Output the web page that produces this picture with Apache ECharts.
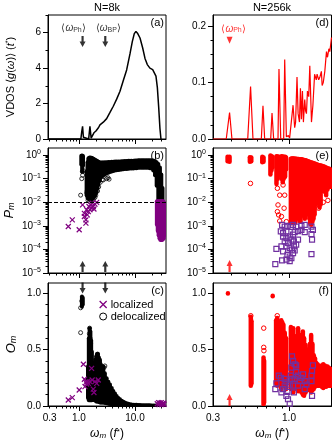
<!DOCTYPE html>
<html>
<head>
<meta charset="utf-8">
<script src="https://cdn.jsdelivr.net/npm/echarts@6/dist/echarts.min.js"></script>
<style>
html, body { margin: 0; padding: 0; background: #fff; }
#chart { width: 333px; height: 446px; }
</style>
</head>
<body>
<div id="chart"></div>
<script>
// ---- data: [omega, value] or [omega, low, high] for dense stacks of modes ----
const vdos8k = [[0.28,0],[1.08,0],[1.12,0.4],[1.16,0.72],[1.2,0.1],[1.24,0],[1.49,0],[1.57,0.72],[1.65,0.05],
    [1.75,0.12],[1.85,0.35],[1.93,0.25],[2.01,0.45],[2.12,0.4],[2.24,0.65],[2.37,0.8],[2.72,0.95],[3.12,1.15],
    [3.58,1.5],[4.1,1.85],[4.71,2.25],[5.4,2.7],[6.19,3.3],[7.1,3.9],[8.14,4.8],[8.96,5.5],[9.72,5.95],[10.4,6.07],
    [11.2,5.95],[12.3,5.7],[13.7,5.15],[15.1,4.55],[16.6,4.2],[18.5,4.0],[20.7,3.92],[22.4,3.85],[23.7,3.55],
    [25.1,2.9],[26.5,1.8],[27.9,0.6],[29.1,0]]
const vdos256k = [[0.3,0],[0.37,0],[0.39,0.047],[0.405,0],[0.52,0],[0.544,0.093],[0.565,0],[0.645,0],[0.662,0.059],
    [0.68,0],[0.748,0],[0.764,0.046],[0.784,0],[0.84,0],[0.853,0.124],[0.877,0],[0.919,0],[0.934,0.141],[0.959,0.004],
    [0.99,0.006],[1.01,0.002],[1.038,0.005],[1.066,0.06],[1.094,0.02],[1.11,0.03],[1.135,0.11],[1.155,0.045],[1.18,0.03],
    [1.198,0.09],[1.217,0.035],[1.237,0.085],[1.256,0.03],[1.283,0.07],[1.3,0.05],[1.318,0.045],[1.339,0.085],[1.367,0.075],
    [1.39,0.13],[1.427,0.03],[1.46,0.06],[1.5,0.115],[1.54,0.105],[1.56,0.115],[1.6,0.105],[1.63,0.11],[1.67,0.12],
    [1.69,0.095],[1.72,0.1],[1.763,0.12],[1.81,0.155],[1.84,0.145],[1.88,0.16],[1.909,0.155],[1.96,0.18]]

const delocP8kBands = [[1.1,0.4,0.93],[1.14,0.2,0.95],[1.18,0.35,0.92],
    [1.37,0.02,0.2],[1.42,0.015,0.5],[1.47,0.015,0.72],[1.52,0.013,0.78],[1.57,0.013,0.8],[1.62,0.013,0.78],
    [1.68,0.013,0.77],[1.74,0.014,0.74],[1.8,0.015,0.7],[1.87,0.017,0.67],[1.93,0.02,0.64],[2.0,0.024,0.61],
    [2.07,0.028,0.58],[2.14,0.04,0.55],[2.21,0.054,0.52],[2.29,0.075,0.5],[2.37,0.1,0.49],[2.5,0.12,0.49],
    [2.62,0.13,0.49],[2.72,0.14,0.49],[2.9,0.15,0.5],[3.12,0.17,0.5],[3.35,0.18,0.51],[3.58,0.19,0.51],
    [3.85,0.2,0.52],[4.1,0.21,0.52],[4.4,0.22,0.53],[4.71,0.23,0.53],[5.05,0.235,0.54],[5.4,0.24,0.54],
    [5.8,0.245,0.55],[6.19,0.25,0.55],[6.6,0.255,0.56],[7.1,0.26,0.56],[7.6,0.265,0.57],[8.14,0.27,0.57],
    [8.7,0.27,0.58],[9.33,0.27,0.58],[10,0.28,0.59],[10.7,0.28,0.59],[11.5,0.29,0.6],[12.3,0.29,0.6],
    [13.2,0.29,0.6],[14.1,0.29,0.61],[15.1,0.29,0.61],[16.2,0.29,0.61],[17.3,0.29,0.61],[18.5,0.28,0.61],
    [19.8,0.27,0.6],[21.2,0.22,0.59],[22.8,0.14,0.56],[24.4,0.05,0.5],[26.1,0.012,0.42],[27.9,0.011,0.3],
    [29.5,0.011,0.15],[31,0.011,0.04]]
const delocP8kPts = [[1.07,0.02],[1.12,0.1],[1.16,0.14],[1.15,0.2],[1.2,0.22],[1.38,0.025],[1.4,0.03],[1.45,0.012],
    [1.55,0.011],[1.65,0.012],[1.8,0.013],[1.93,0.016],[2.0,0.02],[2.15,0.03],[2.25,0.045],[2.4,0.07],[2.6,0.09],
    [2.72,0.088],[3.12,0.1],[3.3,0.11],[3.45,0.095],[2.3,0.12]]
const locP8kBands = [[24.6,0.0011,0.011],[25.5,0.0006,0.011],[26.4,0.0004,0.011],[27.3,0.0003,0.011],
    [28.2,0.00026,0.011],[29.1,0.00025,0.011],[30,0.00025,0.011],[30.9,0.00026,0.011],[31.8,0.00028,0.011],
    [32.7,0.0003,0.01],[33.5,0.0004,0.009]]
const locP8k = [[0.645,0.00094],[0.76,0.0018],[1.01,0.00068],[1.16,0.0077],[1.25,0.0034],[1.25,0.0025],[1.33,0.0013],
    [1.33,0.0018],[1.37,0.0048],[1.41,0.0029],[1.47,0.004],[1.51,0.0066],[1.57,0.0048],[1.61,0.0077],[1.68,0.0056],
    [1.72,0.0091],[1.8,0.0066],[1.85,0.0052],[1.93,0.0083],[2.07,0.0099]]

const delocO8kBands = [[1.13,0.88,0.97],[1.17,0.9,0.96],
    [1.45,0.07,0.35],[1.5,0.05,0.6],[1.55,0.05,0.69],[1.6,0.05,0.66],[1.65,0.05,0.58],[1.7,0.05,0.48],
    [1.76,0.06,0.38],[1.82,0.06,0.36],[1.88,0.05,0.38],[1.95,0.05,0.41],[2.03,0.04,0.44],[2.1,0.04,0.46],
    [2.18,0.04,0.46],[2.27,0.035,0.43],[2.37,0.03,0.41],[2.45,0.03,0.37],[2.54,0.03,0.33],[2.63,0.03,0.34],
    [2.72,0.03,0.35],[2.9,0.027,0.29],[3.12,0.024,0.245],[3.35,0.02,0.215],[3.58,0.018,0.19],[3.85,0.016,0.16],
    [4.1,0.015,0.133],[4.4,0.013,0.11],[4.71,0.012,0.089],[5.05,0.01,0.072],[5.4,0.009,0.059],[5.8,0.008,0.047],
    [6.19,0.007,0.038],[6.6,0.006,0.03],[7.1,0.005,0.024],[7.6,0.005,0.02],[8.14,0.004,0.016],[8.7,0.004,0.014],
    [9.33,0.004,0.012],[10,0.003,0.011],[10.7,0.003,0.01],[11.5,0.003,0.009],[12.3,0.003,0.008],[13.2,0.003,0.007],
    [14.1,0.003,0.007],[15.1,0.003,0.006],[16.2,0.003,0.006],[17.3,0.002,0.006],[18.5,0.002,0.006],[19.8,0.002,0.005],
    [21.2,0.002,0.005],[22.8,0.002,0.005],[24.4,0.002,0.005],[26.1,0.002,0.005],[27.9,0.002,0.005],[29.9,0.002,0.005],
    [31.5,0.002,0.005]]
const delocO8kPts = [[1.07,0.87],[1.07,0.65],[1.12,0.93],[1.55,0.69],[1.53,0.64],[1.58,0.6],[1.62,0.55],[2.9,0.355],
    [2.8,0.34],[2.15,0.46],[1.85,0.11],[1.78,0.08],[2.6,0.35]]
const locO8k = [[0.645,0.053],[0.76,0.074],[1.01,0.142],[1.2,0.37],[1.25,0.237],[1.28,0.172],[1.33,0.21],[1.37,0.195],
    [1.43,0.216],[1.47,0.2],[1.57,0.216],[1.68,0.334],[1.72,0.23],[1.8,0.15],[1.85,0.12],[1.93,0.216],[2.07,0.2],
    [2.21,0.23],[25,0.02],[26.5,0.03],[28,0.025],[29.5,0.03],[31,0.02],[32.5,0.025],[27,0.012],[30,0.012],[33,0.015]]

const delocP256kBands = [[0.378,0.55,0.85],[0.39,0.52,0.85],[0.538,0.52,0.82],[0.55,0.55,0.8],
    [0.655,0.5,0.85],[0.668,0.52,0.8],[0.745,0.15,0.95],[0.757,0.22,0.9],[0.77,0.3,0.85],
    [0.82,0.06,0.9],[0.835,0.1,0.88],[0.85,0.15,0.85],[0.887,0.1,0.9],[0.905,0.07,0.88],[0.92,0.1,0.86],
    [0.94,0.12,0.85],[0.955,0.25,0.8],
    [1.03,0.0015,0.7],[1.045,0.0013,0.72],[1.06,0.0025,0.72],[1.075,0.004,0.72],[1.09,0.0013,0.7],[1.105,0.0014,0.7],
    [1.12,0.003,0.7],[1.135,0.006,0.68],[1.15,0.004,0.68],[1.165,0.002,0.68],[1.18,0.0016,0.67],[1.2,0.0015,0.66],
    [1.215,0.003,0.66],[1.23,0.008,0.65],[1.25,0.004,0.64],[1.27,0.0025,0.62],[1.285,0.002,0.61],[1.3,0.003,0.6],
    [1.32,0.008,0.58],[1.34,0.004,0.56],[1.36,0.003,0.54],[1.38,0.002,0.52],[1.4,0.0012,0.5],[1.425,0.0011,0.49],
    [1.45,0.0015,0.47],[1.475,0.002,0.45],[1.5,0.003,0.44],[1.53,0.008,0.42],[1.56,0.012,0.4],[1.59,0.011,0.38],
    [1.62,0.006,0.37],[1.65,0.008,0.36],[1.68,0.03,0.35],[1.72,0.04,0.34],[1.76,0.028,0.32],[1.8,0.02,0.3],
    [1.84,0.035,0.28],[1.88,0.046,0.27],[1.92,0.045,0.25],[1.955,0.046,0.23]]
const delocP256kPts = [[0.543,0.063],[0.832,0.039],[0.863,0.02],[0.84,0.0077],[0.832,0.004],[0.848,0.0029],
    [0.863,0.0016],[0.91,0.054],[0.934,0.02],[0.925,0.0056],[0.887,0.0025],[0.959,0.0015],[1.6,0.0056],
    [1.72,0.01],[1.85,0.012]]
const locP256k = [[0.896,0.0011],[0.934,0.00093],[0.975,0.001],[0.878,0.00058],[0.91,0.00049],[0.959,0.00058],
    [1.027,0.0009],[1.066,0.0011],[1.12,0.00093],[1.217,0.001],[1.283,0.0011],[1.427,0.00093],[1.46,0.00068],
    [0.91,0.00035],[0.959,0.0003],[1.011,0.00035],[1.066,0.00042],[1.094,0.00054],[1.153,0.0006],[1.217,0.00068],
    [1.283,0.00054],[1.427,0.00045],[1.44,0.00026],[0.934,0.00022],[0.984,0.00019],[1.038,0.00026],[1.08,0.00022],
    [1.12,0.00016],[1.153,0.00026],[0.887,0.000134],[0.959,0.000134],[1.011,0.000114],[1.049,0.000097],
    [1.08,0.000134],[0.819,0.000105],[0.91,0.000083],[0.975,0.000059],[1.011,0.00005],[1.038,0.000043],
    [1.066,0.00007],[1.094,0.00009],[0.896,0.000034],[0.959,0.000037],[1.011,0.000032],[0.805,0.000024],
    [1.427,0.000063]]

const delocO256kBands = [[0.38,0.996,1.0],[0.772,0.972,0.976],[0.546,0.18,0.79],[0.552,0.2,0.75],
    [0.668,0.015,0.43],[0.674,0.03,0.4],[0.815,0.2,0.76],[0.83,0.18,0.78],[0.845,0.2,0.75],[0.86,0.22,0.7],
    [0.885,0.15,0.76],[0.9,0.18,0.74],[0.915,0.2,0.72],[0.935,0.18,0.65],[0.955,0.15,0.6],
    [1.03,0.15,0.7],[1.05,0.18,0.6],[1.07,0.12,0.69],[1.09,0.15,0.62],[1.11,0.18,0.54],[1.13,0.16,0.6],
    [1.155,0.13,0.69],[1.18,0.15,0.6],[1.2,0.13,0.63],[1.22,0.12,0.62],[1.245,0.1,0.66],[1.27,0.09,0.6],
    [1.3,0.12,0.54],[1.33,0.14,0.5],[1.36,0.15,0.48],[1.39,0.14,0.55],[1.42,0.12,0.63],[1.45,0.14,0.55],
    [1.48,0.15,0.45],[1.51,0.17,0.42],[1.54,0.18,0.38],[1.57,0.18,0.37],[1.6,0.18,0.36],[1.64,0.18,0.35],
    [1.68,0.17,0.36],[1.72,0.16,0.37],[1.76,0.17,0.36],[1.8,0.17,0.35],[1.84,0.18,0.35],[1.88,0.18,0.34],
    [1.92,0.18,0.33],[1.955,0.18,0.32]]
const delocO256kPts = [[0.67,0.69],[0.67,0.52],[0.672,0.49],[0.546,0.8],[0.83,0.8]]
const locO256k = [[1.049,0.44],[1.066,0.4],[1.094,0.37],[1.12,0.36],[1.038,0.34],[1.027,0.27],[1.049,0.24],
    [1.094,0.24],[1.12,0.3],[1.153,0.27],[1.185,0.22],[1.217,0.25],[1.25,0.28],[1.283,0.22],[1.317,0.19],
    [1.427,0.27],[1.44,0.31],[1.46,0.36],[1.427,0.22],[1.44,0.09],[1.283,0.15],[1.153,0.18],[1.066,0.18],
    [1.011,0.19],[0.959,0.21],[0.934,0.18],[0.91,0.15],[0.887,0.12],[0.959,0.09],[0.984,0.06],[1.011,0.02],
    [0.878,0.25],[0.85,0.27],[0.819,0.2],[0.805,0.15],[0.934,0.24],[1.08,0.12],[0.975,0.125]]

// mean frequencies marked by arrows
const omegaPh8k = 1.16
const omegaBP8k = 2.95
const omegaPh256k = 0.39
const pThreshold8k = 0.01
const pThreshold256k = 0.001

// ticks
const xLeft = { min: 0.28, max: 35.8, major: [1, 10], minor: [0.3,0.4,0.5,0.6,0.7,0.8,0.9,2,3,4,5,6,7,8,9,20,30], labels: [0.3, 1, 10] }
const xRight = { min: 0.3, max: 1.96, major: [1], minor: [0.4,0.5,0.6,0.7,0.8,0.9], labels: [0.3, 1] }
const yVdos8k = { min: 0, max: 7, major: [0,2,4,6], minor: [1,3,5,7], labels: [0,2,4,6] }
const yVdos256k = { min: 0, max: 0.22, major: [0,0.1,0.2], minor: [0.025,0.05,0.075,0.125,0.15,0.175], labels: [0,0.1,0.2] }
const yP = { min: 1e-5, max: 2, major: [1e-5,1e-4,1e-3,1e-2,1e-1,1], minor: [], labels: [1e-5,1e-4,1e-3,1e-2,1e-1,1] }
for (let e = -5; e < 0; e++) for (let k = 2; k < 10; k++) yP.minor.push(k * Math.pow(10, e))
const yO = { min: 0, max: 1.09, major: [0,0.5,1], minor: [0.1,0.2,0.3,0.4,0.6,0.7,0.8,0.9], labels: [0,0.5,1] }

const FONT = 'Liberation Sans'
const BLACK = '#000000'
const RED = '#ff0000'
const PURPLE = '#800080'
const SQUARE = '#7030a0'
const ARROW = 'path://M3.2,0L6.8,0L6.8,10L10,10L5,20L0,10L3.2,10Z'
const CROSS = 'path://M0,0L10,10M10,0L0,10'

const grids = [
    { left: 48, top: 15, width: 118, height: 124 },
    { left: 48, top: 148, width: 118, height: 125 },
    { left: 48, top: 283, width: 118, height: 123 },
    { left: 213, top: 15, width: 118.5, height: 124 },
    { left: 213, top: 148, width: 118.5, height: 125 },
    { left: 213, top: 283, width: 118.5, height: 123 },
].map(g => Object.assign(g, { show: true, borderColor: BLACK, borderWidth: 1, backgroundColor: 'transparent' }))

const xName = '{w|ω}{s|m} ({i|f}{p|*})'
const xNameStyle = {
    fontSize: 12, fontFamily: FONT, color: BLACK,
    rich: {
        w: { fontSize: 12, fontStyle: 'italic', fontFamily: FONT },
        s: { fontSize: 8, fontStyle: 'italic', fontFamily: FONT, verticalAlign: 'bottom', lineHeight: 8 },
        i: { fontSize: 12, fontStyle: 'italic', fontFamily: FONT },
        p: { fontSize: 8, fontFamily: FONT, verticalAlign: 'top', lineHeight: 8 },
    },
}

function makeAxes(g, cfg, type, dir, labelFmt, name, nameGap, nameStyle) {
    const base = {
        gridIndex: g, type, min: cfg.min, max: cfg.max,
        position: dir === 'x' ? 'bottom' : 'left',
        splitLine: { show: false },
    }
    const major = Object.assign({}, base, {
        axisLine: { onZero: false, lineStyle: { color: BLACK, width: 1 } },
        axisTick: { inside: false, length: 5, customValues: cfg.major, lineStyle: { color: BLACK, width: 1 } },
        axisLabel: labelFmt ? {
            customValues: cfg.labels, formatter: labelFmt, fontSize: 10, fontFamily: FONT, color: BLACK, margin: 7,
            rich: {
                b: { fontSize: 10, fontFamily: FONT, lineHeight: 13 },
                e: { fontSize: 7, fontFamily: FONT, verticalAlign: 'top', lineHeight: 7 },
            },
        } : { show: false },
        name: name || '', nameLocation: 'middle', nameGap: nameGap || 0, nameTextStyle: nameStyle,
    })
    const minor = Object.assign({}, base, {
        axisLine: { show: false },
        axisTick: { inside: false, length: 2.5, customValues: cfg.minor, lineStyle: { color: BLACK, width: 1 } },
        axisLabel: { show: false },
    })
    return [major, minor]
}

const fmt1 = v => v.toFixed(1)
const fmtInt = v => String(Math.round(v))
const fmtPow = v => '{b|10}{e|' + String(Math.round(Math.log10(v))).replace('-', '−') + '}'

const yNameStyle = size => ({
    fontSize: size, fontFamily: FONT, color: BLACK,
    rich: {
        i: { fontSize: size, fontStyle: 'italic', fontFamily: FONT },
        s: { fontSize: size - 4, fontStyle: 'italic', fontFamily: FONT, verticalAlign: 'bottom', lineHeight: size - 4 },
        p: { fontSize: size - 4, fontFamily: FONT, verticalAlign: 'top', lineHeight: size - 4 },
    },
})

const xAxis = [].concat(
    makeAxes(0, xLeft, 'log', 'x', null),
    makeAxes(1, xLeft, 'log', 'x', null),
    makeAxes(2, xLeft, 'log', 'x', fmt1, xName, 22, xNameStyle),
    makeAxes(3, xRight, 'log', 'x', null),
    makeAxes(4, xRight, 'log', 'x', null),
    makeAxes(5, xRight, 'log', 'x', fmt1, xName, 22, xNameStyle),
)
const yAxis = [].concat(
    makeAxes(0, yVdos8k, 'value', 'y', fmtInt, 'VDOS ⟨{i|g}({i|ω})⟩ ({i|t}{p|*})', 32, yNameStyle(11)),
    makeAxes(1, yP, 'log', 'y', fmtPow, '{i|P}{s|m}', 32, yNameStyle(13)),
    makeAxes(2, yO, 'value', 'y', fmt1, '{i|O}{s|m}', 30, yNameStyle(13)),
    makeAxes(3, yVdos256k, 'value', 'y', fmt1),
    makeAxes(4, yP, 'log', 'y', fmtPow),
    makeAxes(5, yO, 'value', 'y', fmt1),
)

function bands(g, data, color, w) {
    return {
        type: 'custom', xAxisIndex: 2 * g, yAxisIndex: 2 * g, data, clip: true, silent: true,
        encode: { x: 0, y: [1, 2] },
        renderItem(params, api) {
            const hi = api.coord([api.value(0), api.value(2)])
            const lo = api.coord([api.value(0), api.value(1)])
            return {
                type: 'rect',
                shape: { x: hi[0] - w / 2, y: hi[1] - w / 2, width: w, height: lo[1] - hi[1] + w, r: w / 2 },
                style: { fill: color },
            }
        },
    }
}

function points(g, name, data, symbol, size, color, width) {
    return {
        type: 'scatter', name, xAxisIndex: 2 * g, yAxisIndex: 2 * g, data, symbol, symbolSize: size, silent: true,
        itemStyle: { color: 'transparent', borderColor: color, borderWidth: width, opacity: 1 },
    }
}

function arrows(g, data, color, rotate, size, symbol) {
    return {
        type: 'scatter', xAxisIndex: 2 * g, yAxisIndex: 2 * g, data, symbol: symbol || ARROW, symbolSize: size,
        symbolRotate: rotate, silent: true, z: 5,
        itemStyle: { color, borderWidth: 0 },
    }
}

function dashed(g, value, color) {
    return {
        type: 'line', xAxisIndex: 2 * g, yAxisIndex: 2 * g, data: [], silent: true,
        markLine: {
            silent: true, symbol: ['none', 'none'], label: { show: false }, animation: false,
            lineStyle: { color, type: [4, 2], width: 1 },
            data: [{ yAxis: value }],
        },
    }
}

const arrowLabel = (text, color, dx) => ({
    show: true, position: 'top', distance: 3, offset: [dx, 0], color, fontSize: 10, fontFamily: FONT,
    formatter: '⟨{w|ω}{s|' + text + '}⟩',
    rich: {
        w: { fontSize: 10, fontStyle: 'italic', fontFamily: FONT, color },
        s: { fontSize: 7, fontFamily: FONT, verticalAlign: 'bottom', lineHeight: 7, color },
    },
})

const series = [
    // (a)
    { type: 'line', xAxisIndex: 0, yAxisIndex: 0, data: vdos8k, showSymbol: false, silent: true,
        lineStyle: { color: BLACK, width: 1.5 } },
    arrows(0, [
        { value: [omegaPh8k, 5.5], label: arrowLabel('Ph', BLACK, -9) },
        { value: [omegaBP8k, 5.5], label: arrowLabel('BP', BLACK, 3) },
    ], BLACK, 0, [6, 11]),
    // (b)
    bands(1, delocP8kBands, BLACK, 4),
    points(1, 'delocalized', delocP8kPts, 'circle', 4, BLACK, 0.8),
    bands(1, locP8kBands, PURPLE, 4),
    points(1, 'localized', locP8k, CROSS, 5, PURPLE, 1.2),
    dashed(1, pThreshold8k, BLACK),
    arrows(1, [[omegaPh8k, 1.9e-5], [omegaBP8k, 1.9e-5]], BLACK, 180, [6, 11]),
    // (c)
    bands(2, delocO8kBands, BLACK, 4),
    points(2, 'delocalized', delocO8kPts, 'circle', 4, BLACK, 0.8),
    points(2, 'localized', locO8k, CROSS, 5, PURPLE, 1.2),
    arrows(2, [[omegaPh8k, 1.045], [omegaBP8k, 1.045]], BLACK, 0, [6, 11]),
    // (d)
    { type: 'line', xAxisIndex: 6, yAxisIndex: 6, data: vdos256k, showSymbol: false, silent: true,
        lineStyle: { color: RED, width: 1.2 } },
    arrows(3, [{ value: [omegaPh256k, 0.175], label: arrowLabel('Ph', RED, 4) }], RED, 180, [6, 7], 'triangle'),
    // (e)
    bands(4, delocP256kBands, RED, 4.5),
    points(4, 'delocalized N=256k', delocP256kPts, 'circle', 4.5, RED, 1),
    points(4, 'localized N=256k', locP256k, 'rect', 5, SQUARE, 1.2),
    dashed(4, pThreshold256k, RED),
    arrows(4, [[omegaPh256k, 2e-5]], RED, 180, [6, 12]),
    // (f)
    bands(5, delocO256kBands, RED, 4.5),
    points(5, 'delocalized N=256k', delocO256kPts, 'circle', 4.5, RED, 1),
    points(5, 'localized N=256k', locO256k, 'rect', 5, SQUARE, 1.2),
    arrows(5, [[omegaPh256k, 0.053]], RED, 180, [6, 12]),
]

const text = (x, y, str, align) => ({
    type: 'text', x, y, silent: true,
    style: { text: str, fontSize: 11, fontFamily: FONT, fill: BLACK, align, verticalAlign: 'middle',
        textAlign: align, textVerticalAlign: 'middle' },
})

const chart = echarts.init(document.getElementById('chart'))
chart.setOption({
    animation: false,
    backgroundColor: '#fff',
    grid: grids,
    xAxis,
    yAxis,
    series,
    legend: {
        left: 99, top: 299, orient: 'vertical', itemGap: 1, itemWidth: 7, itemHeight: 7, padding: 0,
        textStyle: { fontSize: 11, fontFamily: FONT, color: BLACK, padding: [0, 0, 0, -1] },
        data: [
            { name: 'localized', icon: CROSS, itemStyle: { color: 'transparent', borderColor: PURPLE, borderWidth: 1.3 } },
            { name: 'delocalized', icon: 'circle', itemStyle: { color: 'transparent', borderColor: BLACK, borderWidth: 1 } },
        ],
        selectedMode: false,
    },
    graphic: [
        text(107, 8, 'N=8k', 'center'),
        text(272, 8, 'N=256k', 'center'),
        text(164, 23, '(a)', 'right'),
        text(164, 156, '(b)', 'right'),
        text(164, 291, '(c)', 'right'),
        text(329, 23, '(d)', 'right'),
        text(329, 156, '(e)', 'right'),
        text(329, 291, '(f)', 'right'),
    ],
})
</script>
</body>
</html>
